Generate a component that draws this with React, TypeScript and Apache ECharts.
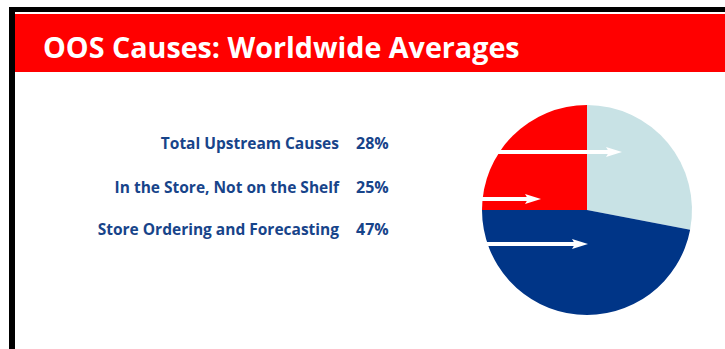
import React, { useEffect, useRef } from "react";
import * as echarts from "echarts";

const title = "OOS Causes: Worldwide Averages";
const categories = ["Total Upstream Causes", "In the Store, Not on the Shelf", "Store Ordering and Forecasting"];
const shares = [28, 25, 47];
const colors = ["#c8e2e5", "#ff0000", "#003587"];
// pie drawing order (clockwise from 12 o'clock)
const pieOrder = [0, 2, 1];
// arrow rows: [y, tip x]
const arrowY = [152, 199, 244];
const arrowTipX = [622, 541, 588];

export default function App() {
  const ref = useRef<HTMLDivElement>(null);
  useEffect(() => {
    const chart = echarts.init(ref.current!, null, { renderer: "svg" });
    const labelX = 339;
    const pctX = 356;
    const rowY = [143, 187, 229];
    const textColor = "#17448a";
    const font = "'Open Sans', Lato, sans-serif";

    const graphics: any[] = [
      { type: "rect", shape: { x: 9, y: 7, width: 716, height: 5 }, style: { fill: "#000" }, z: 1 },
      { type: "rect", shape: { x: 9, y: 7, width: 6, height: 342 }, style: { fill: "#000" }, z: 1 },
      { type: "rect", shape: { x: 15, y: 14, width: 710, height: 58 }, style: { fill: "#ff0000" }, z: 1 },
      {
        type: "text",
        x: 43,
        y: 46,
        z: 2,
        style: {
          text: title,
          fill: "#ffffff",
          font: `bold 28.7px ${font}`,
          textAlign: "left",
          textVerticalAlign: "middle",
        },
      },
    ];
    categories.forEach((c, i) => {
      graphics.push({
        type: "text",
        x: labelX,
        y: rowY[i],
        z: 2,
        style: { text: c, fill: textColor, font: `bold 15.5px ${font}`, textAlign: "right", textVerticalAlign: "middle" },
      });
      graphics.push({
        type: "text",
        x: pctX,
        y: rowY[i],
        z: 2,
        style: { text: shares[i] + "%", fill: textColor, font: `bold 16px ${font}`, textAlign: "left", textVerticalAlign: "middle" },
      });
      const tip = arrowTipX[i];
      const y = arrowY[i];
      graphics.push({
        type: "line",
        z: 10,
        shape: { x1: 470, y1: y, x2: tip - 12, y2: y },
        style: { stroke: "#ffffff", lineWidth: 4 },
      });
      graphics.push({
        type: "polygon",
        z: 10,
        shape: { points: [[tip - 16, y - 5], [tip, y], [tip - 16, y + 5], [tip - 13, y]] },
        style: { fill: "#ffffff" },
      });
    });

    chart.setOption({
      animation: false,
      backgroundColor: "#ffffff",
      series: [
        {
          type: "pie",
          center: [587, 210],
          radius: 105,
          startAngle: 90,
          clockwise: true,
          label: { show: false },
          labelLine: { show: false },
          silent: true,
          itemStyle: { borderWidth: 0 },
          z: 3,
          data: pieOrder.map((i) => ({ name: categories[i], value: shares[i], itemStyle: { color: colors[i] } })),
        },
      ],
      graphic: graphics,
    });
    return () => chart.dispose();
  }, []);
  return <div ref={ref} style={{ position: "fixed", left: 0, top: 0, width: 725, height: 349 }} />;
}
